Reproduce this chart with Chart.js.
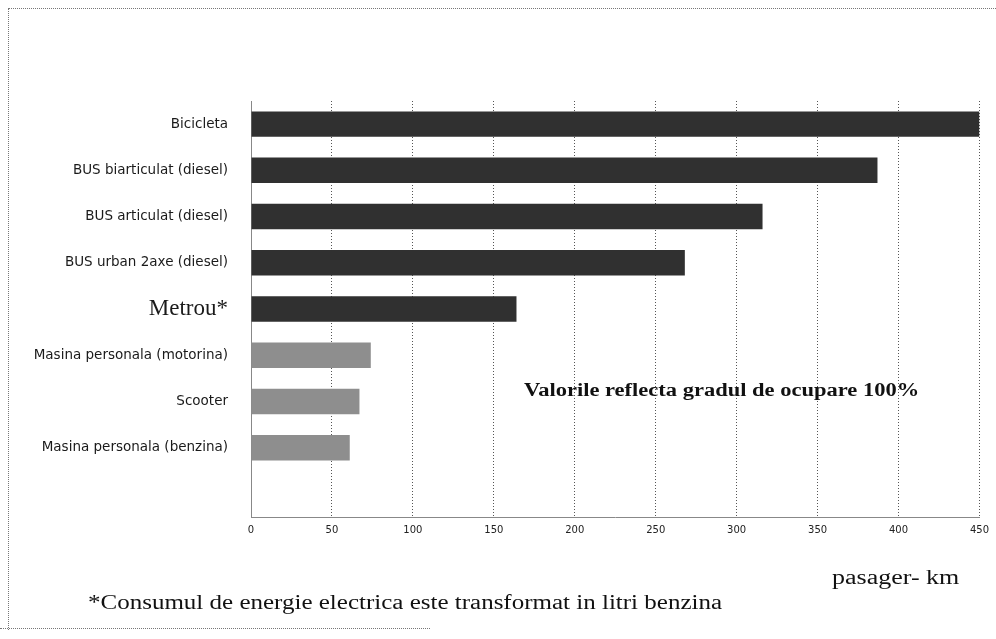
<!DOCTYPE html>
<html>
<head>
<meta charset="utf-8">
<script src="https://cdn.jsdelivr.net/npm/chart.js@4.4.1/dist/chart.umd.min.js"></script>
<style>
    html, body { margin: 0; padding: 0; background: #fff; }
    #wrap { position: relative; width: 996px; height: 639px; overflow: hidden; }
    #chart { position: absolute; left: 0; top: 0; }
    .frame-top { position: absolute; left: 8px; top: 8px; width: 988px; border-top: 1px dotted #777; }
    .frame-left { position: absolute; left: 8px; top: 8px; height: 622px; border-left: 1px dotted #777; }
    .frame-bottom { position: absolute; left: 0; top: 628px; width: 430px; border-top: 1px dotted #777; }
    .txt { position: absolute; font-family: "Liberation Serif", "DejaVu Serif", serif; color: #111;
           white-space: nowrap; transform-origin: 0 50%; }
    #note { left: 524px; top: 380px; font-size: 18px; font-weight: bold; transform: scaleX(1.25); }
    #unit { left: 832px; top: 566px; font-size: 20px; transform: scaleX(1.3); }
    #foot { left: 88px; top: 591px; font-size: 20px; transform: scaleX(1.25); }
</style>
</head>
<body>
<div id="wrap">
    <canvas id="chart" width="996" height="639"></canvas>
    <div class="frame-top"></div>
    <div class="frame-left"></div>
    <div class="frame-bottom"></div>
    <div class="txt" id="note">Valorile reflecta gradul de ocupare 100%</div>
    <div class="txt" id="unit">pasager- km</div>
    <div class="txt" id="foot">*Consumul de energie electrica este transformat in litri benzina</div>
</div>
<script>
// Vehicule (de sus in jos)
var categories = [
    'Bicicleta',
    'BUS biarticulat (diesel)',
    'BUS articulat (diesel)',
    'BUS urban 2axe (diesel)',
    'Metrou*',
    'Masina personala (motorina)',
    'Scooter',
    'Masina personala (benzina)'
];
// pasager-km (pe litru benzina echivalent)
var values = [450, 387, 316, 268, 164, 74, 67, 61];
var xTicks = [0, 50, 100, 150, 200, 250, 300, 350, 400, 450];

// un rand gol la final, ca in original
var labels = categories.concat(['']);
var data = values.concat([null]);

var DARK = '#303030';
var LIGHT = '#8e8e8e';

new Chart(document.getElementById('chart'), {
    type: 'bar',
    data: {
        labels: labels,
        datasets: [{
            data: data,
            backgroundColor: function (ctx) { return ctx.dataIndex < 5 ? DARK : LIGHT; },
            borderWidth: 0,
            categoryPercentage: 1,
            barPercentage: 0.55
        }]
    },
    options: {
        indexAxis: 'y',
        responsive: false,
        animation: false,
        layout: { padding: { top: 101, right: 14, bottom: 0, left: 0 } },
        plugins: { legend: { display: false }, tooltip: { enabled: false } },
        scales: {
            x: {
                min: 0,
                max: 450,
                afterBuildTicks: function (scale) {
                    scale.ticks = xTicks.map(function (v) { return { value: v }; });
                },
                afterFit: function (scale) { scale.height = 122; },
                grid: { color: '#555', drawTicks: false },
                border: { color: '#888', dash: [1, 2] },
                ticks: {
                    color: '#222',
                    padding: 7,
                    font: { family: 'DejaVu Sans', size: 10 }
                }
            },
            y: {
                afterFit: function (scale) { scale.width = 251; },
                grid: { display: false, drawTicks: false },
                border: { color: '#888' },
                ticks: {
                    color: '#1a1a1a',
                    padding: 23,
                    font: function (ctx) {
                        if (ctx.index === 4) return { family: 'Liberation Serif', size: 23 };
                        return { family: 'DejaVu Sans', size: 13.5 };
                    }
                }
            }
        }
    }
});
</script>
</body>
</html>
